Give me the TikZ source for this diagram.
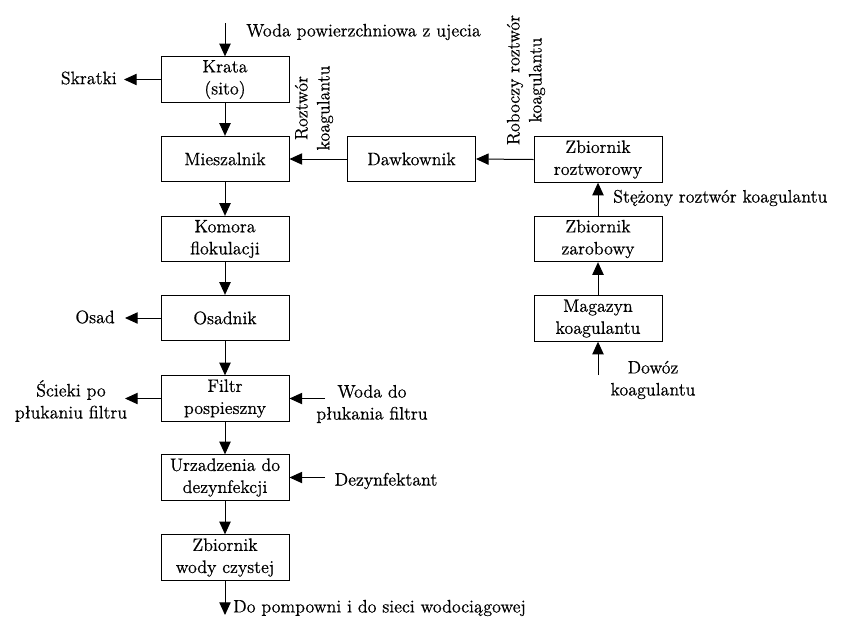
\documentclass[tikz,border=0pt]{standalone}
\usepackage{fontspec}
\setmainfont{Latin Modern Roman}[UprightFeatures={FakeBold=0.6}]
\usetikzlibrary{arrows.meta}
\begin{document}
\begin{tikzpicture}[x=0.75pt,y=-0.75pt,
  txt/.style={font=\fontsize{13.5}{16.5}\selectfont},
  box/.style={txt,draw,line width=0.75pt,minimum width=96pt,minimum height=34pt,align=center,inner sep=1pt},
  lbl/.style={txt,align=center,inner sep=0pt},
  flow/.style={line width=0.75pt,-{Triangle[length=9.5pt,width=8.5pt]}}]
\useasboundingbox (0,0) rectangle (848,619);
% left column
\node[box] (krata) at (225,79.5) {Krata\\(sito)};
\node[box] (miesz) at (225,159) {Mieszalnik};
\node[box] (komora) at (225,239) {Komora\\flokulacji};
\node[box] (osad) at (225,318) {Osadnik};
\node[box] (filtr) at (225,398.5) {Filtr\\pospieszny};
\node[box] (urz) at (225,477.5) {Urzadzenia do\\dezynfekcji};
\node[box] (zbw) at (225,557.5) {Zbiornik\\wody czystej};
% middle and right
\node[box] (dawk) at (411.5,159) {Dawkownik};
\node[box] (roztw) at (598,159.5) {Zbiornik\\roztworowy};
\node[box] (zarob) at (598,239) {Zbiornik\\zarobowy};
\node[box] (mag) at (598,318.5) {Magazyn\\koagulantu};
% labels
\node[lbl,anchor=west] (wodap) at (246,32) {Woda powierzchniowa z ujecia};
\node[lbl,anchor=east] (skr) at (117,78) {Skratki};
\node[lbl,anchor=east] (osadl) at (115,317) {Osad};
\node[lbl] (sciek) at (71,401) {Ścieki po\\płukaniu filtru};
\node[lbl] (wodaf) at (372,404) {Woda do\\płukania filtru};
\node[lbl] (dez) at (386,481) {Dezynfektant};
\node[lbl,anchor=west] (pomp) at (233,608) {Do pompowni i do sieci wodociągowej};
\node[lbl,rotate=90] (rk) at (314,108) {Roztwór\\koagulantu};
\node[lbl,rotate=90] (rrk) at (526,80) {Roboczy roztwór\\koagulantu};
\node[lbl,anchor=west] (stez) at (613,198) {Stężony roztwór koagulantu};
\node[lbl] (dowoz) at (653,380) {Dowóz\\koagulantu};
% free ends
\coordinate (inTop) at (225,23);
\coordinate (skrEnd) at (124,79.5);
\coordinate (osadEnd) at (125,318);
\coordinate (sciekEnd) at (125,398.5);
\coordinate (wodafStart) at (325,398.5);
\coordinate (dezStart) at (325,477.5);
\coordinate (pompEnd) at (225,615);
\coordinate (dowozStart) at (598,375);
% connectors
\draw[flow] (inTop) -- (krata.north);
\draw[flow] (krata.west) -- (skrEnd);
\draw[flow] (krata.south) -- (miesz.north);
\draw[flow] (miesz.south) -- (komora.north);
\draw[flow] (komora.south) -- (osad.north);
\draw[flow] (osad.west) -- (osadEnd);
\draw[flow] (osad.south) -- (filtr.north);
\draw[flow] (filtr.west) -- (sciekEnd);
\draw[flow] (wodafStart) -- (filtr.east);
\draw[flow] (filtr.south) -- (urz.north);
\draw[flow] (dezStart) -- (urz.east);
\draw[flow] (urz.south) -- (zbw.north);
\draw[flow] (zbw.south) -- (pompEnd);
\draw[flow] (dawk.west) -- (miesz.east);
\draw[flow] (roztw.west) -- (dawk.east);
\draw[flow] (zarob.north) -- (roztw.south);
\draw[flow] (mag.north) -- (zarob.south);
\draw[flow] (dowozStart) -- (mag.south);
\end{tikzpicture}
\end{document}
